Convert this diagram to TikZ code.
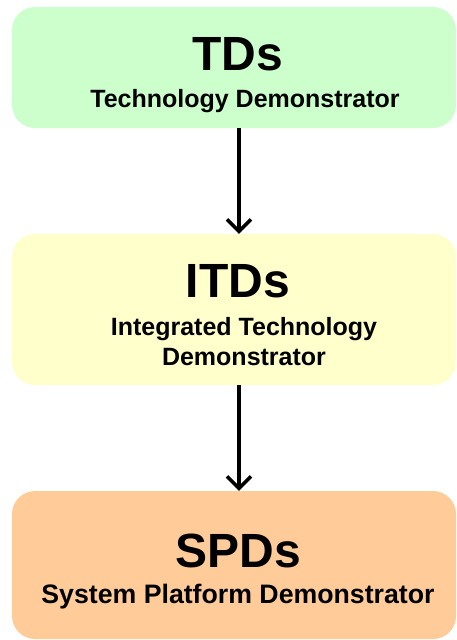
\documentclass[tikz,border=0pt]{standalone}
\usepackage{fontspec}
\setmainfont{Liberation Sans}
\usetikzlibrary{arrows.meta}
\definecolor{tdgreen}{HTML}{CCFFCC}
\definecolor{itdyellow}{HTML}{FFFFCC}
\definecolor{spdorange}{HTML}{FFCC99}
\newlength{\boxrad}
\setlength{\boxrad}{23pt}

\begin{document}
\begin{tikzpicture}[x=1pt,y=-1pt,
    demobox/.style={rounded corners=\boxrad,minimum width=444pt,inner sep=0pt},
    bigname/.style={anchor=base,inner sep=0pt,font=\fontsize{48}{50}\selectfont\bfseries},
    subname/.style={anchor=base,inner sep=0pt,align=center,font=\fontsize{25}{30}\selectfont\bfseries},
    flow/.style={line width=3.5pt,-{Straight Barb[length=12pt,width=24pt]}}]
  \useasboundingbox (0,0) rectangle (457,640);
  % the three levels
  \node[demobox,fill=tdgreen,minimum height=121pt] (tds) at (234,67.5){};
  \node[demobox,fill=itdyellow,minimum height=151pt] (itds) at (234,309.5){};
  \node[demobox,fill=spdorange,minimum height=148pt] (spds) at (234,565){};
  \node[bigname] (tdsname) at (238,70) {TDs};
  \node[subname] (tdstext) at (245,107) {Technology Demonstrator};
  \node[bigname] (itdsname) at (238,297) {ITDs};
  \node[subname] (itdstext) at (244,365) {Integrated Technology\\Demonstrator};
  \node[bigname] (spdsname) at (238.5,567) {SPDs};
  \node[subname,font=\fontsize{26.7}{30}\selectfont\bfseries] (spdstext) at (238,603) {System Platform Demonstrator};
  % arrows between levels
  \draw[flow] ([xshift=5pt]tds.south) -- ([xshift=5pt]itds.north);
  \draw[flow] ([xshift=5pt]itds.south) -- ([xshift=5pt]spds.north);
\end{tikzpicture}
\end{document}
